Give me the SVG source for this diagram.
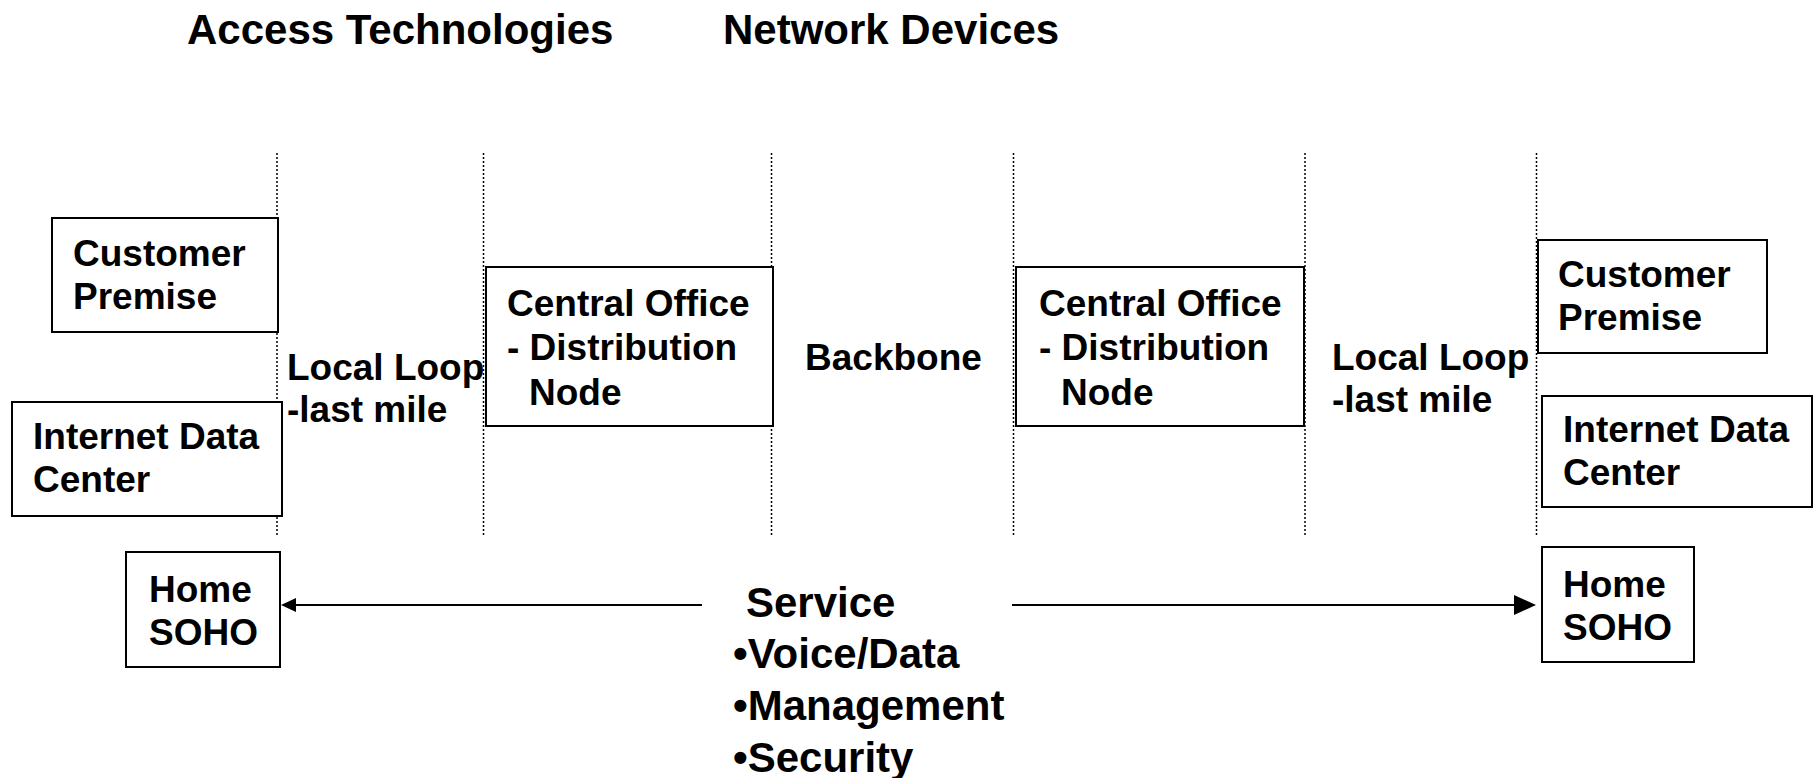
<svg xmlns="http://www.w3.org/2000/svg" width="1814" height="778" viewBox="0 0 1814 778">
<style>
text{font-family:"Liberation Sans",Arial,sans-serif;font-weight:bold;fill:#000}
.t{font-size:37px}
.h{font-size:42px}
.box{fill:#fff;stroke:#000;stroke-width:2}
.div{stroke:#000;stroke-width:1.5;stroke-dasharray:2,2;fill:none}
.arr{stroke:#000;stroke-width:2;fill:none}
</style>
<rect width="1814" height="778" fill="#fff"/>
<g id="titles">
<text class="h" x="187" y="44">Access Technologies</text>
<text class="h" x="723" y="44">Network Devices</text>
</g>
<g id="dividers">
<line class="div" x1="277" y1="153" x2="277" y2="535"/>
<line class="div" x1="483.5" y1="153" x2="483.5" y2="535"/>
<line class="div" x1="771.5" y1="153" x2="771.5" y2="535"/>
<line class="div" x1="1013.5" y1="153" x2="1013.5" y2="535"/>
<line class="div" x1="1305" y1="153" x2="1305" y2="535"/>
<line class="div" x1="1536.5" y1="153" x2="1536.5" y2="535"/>
</g>
<g id="cp-left"><rect class="box" x="52" y="218" width="226" height="114"/>
<text class="t" x="73" y="266">Customer</text><text class="t" x="73" y="309">Premise</text></g>
<g id="idc-left"><rect class="box" x="12" y="402" width="270" height="114"/>
<text class="t" x="33" y="449">Internet Data</text><text class="t" x="33" y="492">Center</text></g>
<g id="loop-left"><text class="t" x="287" y="380">Local Loop</text><text class="t" x="287" y="422">-last mile</text></g>
<g id="co-left"><rect class="box" x="486" y="267" width="287" height="159"/>
<text class="t" x="507" y="316">Central Office</text><text class="t" x="507" y="360">- Distribution</text><text class="t" x="529" y="405">Node</text></g>
<g id="backbone"><text class="t" x="805" y="370">Backbone</text></g>
<g id="co-right"><rect class="box" x="1016" y="267" width="288" height="159"/>
<text class="t" x="1039" y="316">Central Office</text><text class="t" x="1039" y="360">- Distribution</text><text class="t" x="1061" y="405">Node</text></g>
<g id="loop-right"><text class="t" x="1332" y="370">Local Loop</text><text class="t" x="1332" y="412">-last mile</text></g>
<g id="cp-right"><rect class="box" x="1538" y="240" width="229" height="113"/>
<text class="t" x="1558" y="287">Customer</text><text class="t" x="1558" y="330">Premise</text></g>
<g id="idc-right"><rect class="box" x="1542" y="396" width="270" height="111"/>
<text class="t" x="1563" y="442">Internet Data</text><text class="t" x="1563" y="485">Center</text></g>
<g id="home-left"><rect class="box" x="126" y="552" width="154" height="115"/>
<text class="t" x="149" y="602">Home</text><text class="t" x="149" y="645">SOHO</text></g>
<g id="home-right"><rect class="box" x="1542" y="547" width="152" height="115"/>
<text class="t" x="1563" y="597">Home</text><text class="t" x="1563" y="640">SOHO</text></g>
<g id="service">
<text class="h" x="746" y="617">Service</text>
<text class="h" x="733" y="668">•Voice/Data</text>
<text class="h" x="733" y="720">•Management</text>
<text class="h" x="733" y="772">•Security</text>
</g>
<g id="connectors">
<line class="arr" x1="702" y1="605" x2="294" y2="605"/>
<polygon points="281,605 296,598 296,612" fill="#000"/>
<line class="arr" x1="1012" y1="605" x2="1516" y2="605"/>
<polygon points="1536,605 1514,595 1514,615" fill="#000"/>
</g>
</svg>
